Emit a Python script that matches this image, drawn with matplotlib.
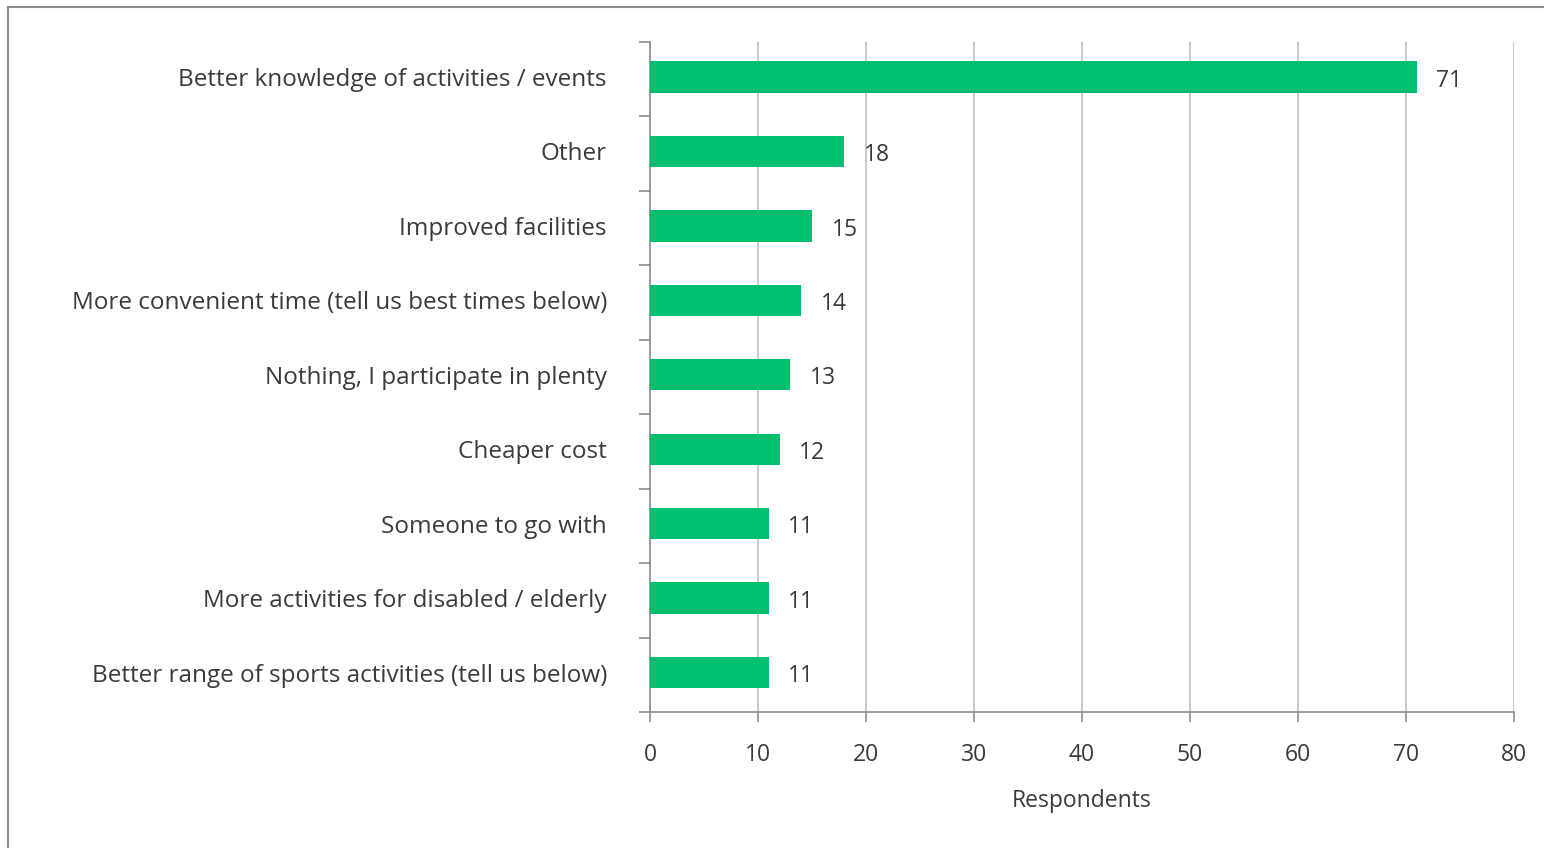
import matplotlib
matplotlib.use("Agg")
import matplotlib.pyplot as plt
import numpy as np
from matplotlib.patches import Rectangle

categorias = ["Better knowledge of activities / events", "Other", "Improved facilities",
              "More convenient time (tell us best times below)", "Nothing, I participate in plenty",
              "Cheaper cost", "Someone to go with", "More activities for disabled / elderly",
              "Better range of sports activities (tell us below)"]
valores = [71, 18, 15, 14, 13, 12, 11, 11, 11]
ticks_x = [0, 10, 20, 30, 40, 50, 60, 70, 80]

plt.rcParams['font.family'] = ['Open Sans', 'DejaVu Sans']

fig = plt.figure(figsize=(15.44, 8.48), dpi=100)
# marco gris de la figura
fig.patches.append(Rectangle((8/1544, -0.1), 1.2, (848-7)/848 + 0.1, transform=fig.transFigure,
                             fill=False, edgecolor="#8c8c8c", linewidth=1.5))
ax = fig.add_axes([650/1544, 1-712/848, (1514-650)/1544, (712-42)/848])

y = np.arange(len(categorias))
ax.barh(y - 0.03, valores, height=0.42, color="#00BF6F", zorder=3)
ax.set_ylim(len(categorias)-0.5, -0.5)
ax.set_xlim(0, 80)
ax.set_xticks(ticks_x)
ax.set_xticklabels([str(t) for t in ticks_x], fontsize=16.5, color="#3a3a3a")
ax.set_yticks(y - 0.03)
ax.set_yticklabels(categorias, fontsize=17.5, color="#3a3a3a")
ax.set_yticks(np.arange(-0.5, len(categorias), 1), minor=True)
ax.tick_params(axis="y", which="major", length=0, pad=31)
ax.tick_params(axis="y", which="minor", length=8, color="#8c8c8c", width=1.2)
ax.tick_params(axis="x", length=7, color="#8c8c8c", width=1.2, pad=15)

ax.grid(axis="x", color="#c0c0c0", linewidth=1.2, zorder=0)
for s in ["top", "right"]:
    ax.spines[s].set_visible(False)
for s in ["left", "bottom"]:
    ax.spines[s].set_color("#8c8c8c")
    ax.spines[s].set_linewidth(1.2)

for yi, v in zip(y, valores):
    ax.text(v + 1.8, yi + 0.02, str(v), va="center", ha="left", fontsize=16.5, color="#3a3a3a")

ax.set_xlabel("Respondents", fontsize=16.5, color="#3a3a3a", labelpad=16)

fig.savefig("out.png", dpi=100)
